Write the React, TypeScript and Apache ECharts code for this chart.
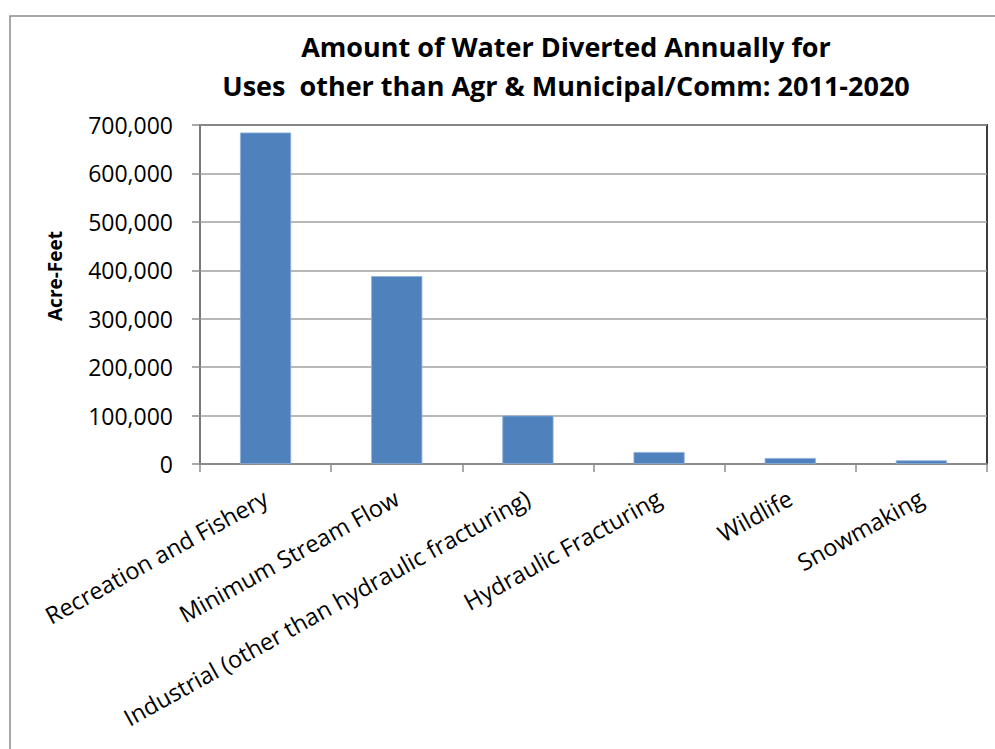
import React, { useEffect, useRef } from "react";
import * as echarts from "echarts";

const categories = [
  "Recreation and Fishery",
  "Minimum Stream Flow",
  "Industrial (other than hydraulic fracturing)",
  "Hydraulic Fracturing",
  "Wildlife",
  "Snowmaking",
];
const acreFeet = [684500, 388000, 100000, 24800, 12400, 7600];
const titleLines = [
  "Amount of Water Diverted Annually for",
  "Uses  other than Agr & Municipal/Comm: 2011-2020",
];
const yAxisName = "Acre-Feet";

export default function App() {
  const ref = useRef<HTMLDivElement>(null);
  useEffect(() => {
    if (!ref.current) return;
    const chart = echarts.init(ref.current, null, { renderer: "svg" });
    const font = "'Open Sans', sans-serif";
    chart.setOption({
      animation: false,
      backgroundColor: "#fff",
      title: {
        text: titleLines.join("\n"),
        left: 561,
        top: 22,
        textAlign: "center",
        textStyle: {
          fontFamily: font,
          fontWeight: "bold",
          fontSize: 27,
          lineHeight: 39,
          color: "#000",
        },
      },
      graphic: [
        {
          type: "rect",
          shape: { x: 10, y: 16, width: 1100, height: 900 },
          style: { fill: "none", stroke: "#8c8c8c", lineWidth: 1.5 },
          silent: true,
        },
        {
          type: "text",
          x: 55,
          y: 276,
          rotation: Math.PI / 2,
          style: {
            text: yAxisName,
            fontFamily: font,
            fontWeight: "bold",
            fontSize: 19,
            fill: "#000",
            align: "center",
            verticalAlign: "middle",
          },
        },
      ],
      grid: {
        left: 200,
        right: 8,
        top: 125,
        bottom: 285,
        show: true,
        borderColor: "#3c3c3c",
        borderWidth: 2,
      },
      xAxis: {
        type: "category",
        data: categories,
        axisLine: { lineStyle: { color: "#8c8c8c", width: 1.5 } },
        axisTick: { show: true, length: 8, alignWithLabel: false, lineStyle: { color: "#8c8c8c", width: 1.5 } },
        axisLabel: {
          rotate: 29,
          interval: 0,
          margin: 32,
          fontFamily: font,
          fontSize: 23.5,
          color: "#000",
        },
      },
      yAxis: {
        type: "value",
        min: 0,
        max: 700000,
        interval: 100000,
        axisLine: { show: true, lineStyle: { color: "#8c8c8c", width: 1.5 } },
        axisTick: { show: true, length: 8, lineStyle: { color: "#8c8c8c", width: 1.5 } },
        axisLabel: {
          margin: 27,
          fontFamily: font,
          fontSize: 23,
          color: "#000",
          formatter: (v: number) => v.toLocaleString("en-US"),
        },
        splitLine: { lineStyle: { color: "#a0a0a0", width: 1.5 } },
      },
      series: [
        {
          type: "bar",
          data: acreFeet,
          barWidth: "39%",
          itemStyle: { color: "#4f81bd", borderColor: "#8fb0da", borderWidth: 0.8 },
        },
      ],
    });
    return () => chart.dispose();
  }, []);
  return (
    <div
      ref={ref}
      style={{ position: "absolute", left: 0, top: 0, width: 995, height: 749 }}
    />
  );
}
